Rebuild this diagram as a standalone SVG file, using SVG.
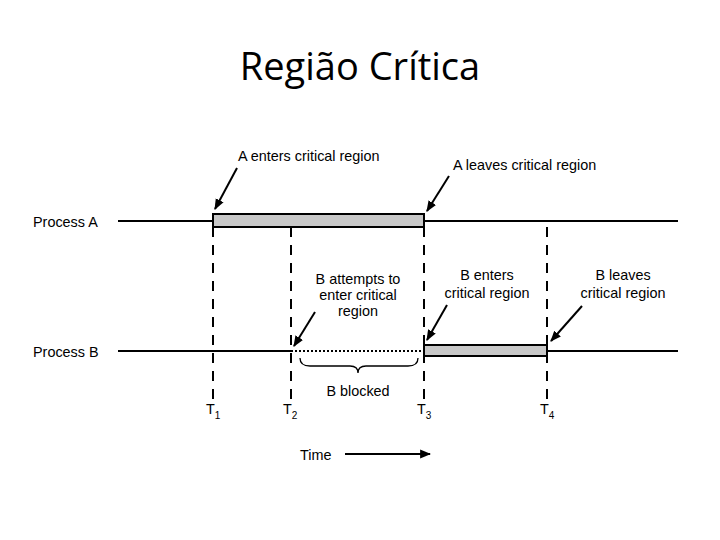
<svg xmlns="http://www.w3.org/2000/svg" width="720" height="540" viewBox="0 0 720 540">
<defs>
<style>
text{font-family:"Liberation Sans",Arial,sans-serif;font-size:14.4px;fill:#000}
.title{font-family:"Open Sans","Liberation Sans",sans-serif;font-size:38px;fill:#000}
.line{stroke:#000;stroke-width:2;fill:none}
.dash{stroke:#000;stroke-width:2;stroke-dasharray:10,8;fill:none}
.bar{fill:#c8c8c8;stroke:#000;stroke-width:2}
.arr{stroke:#000;stroke-width:2;fill:none;marker-end:url(#ah)}
.sub{font-size:10px}
</style>
<marker id="ah" viewBox="0 0 10 10" refX="9" refY="5" markerWidth="5.5" markerHeight="5.5" orient="auto" markerUnits="strokeWidth">
<path d="M0,1 L10,5 L0,9 z" fill="#000"/>
</marker>
</defs>
<rect width="720" height="540" fill="#fff"/>
<text class="title" x="360" y="80" text-anchor="middle">Região Crítica</text>

<g id="processA">
<text x="33" y="227">Process A</text>
<line class="line" x1="118" y1="221" x2="678" y2="221"/>
<rect class="bar" x="213" y="214" width="211" height="13"/>
</g>
<g id="processB">
<text x="33" y="357">Process B</text>
<line class="line" x1="118" y1="351" x2="291" y2="351"/>
<line x1="291" y1="351" x2="424" y2="351" stroke="#000" stroke-width="2" stroke-dasharray="2,2"/>
<line class="line" x1="547" y1="351" x2="678" y2="351"/>
<rect class="bar" x="424" y="345" width="123" height="11"/>
</g>
<g id="timelines">
<line class="dash" x1="213" y1="227" x2="213" y2="402"/>
<line class="dash" x1="291" y1="227" x2="291" y2="402"/>
<line class="dash" x1="424" y1="227" x2="424" y2="402"/>
<line class="dash" x1="547" y1="227" x2="547" y2="402"/>
<text x="206" y="414">T<tspan class="sub" dy="5">1</tspan></text>
<text x="283" y="414">T<tspan class="sub" dy="5">2</tspan></text>
<text x="417" y="414">T<tspan class="sub" dy="5">3</tspan></text>
<text x="540" y="414">T<tspan class="sub" dy="5">4</tspan></text>
</g>
<g id="labels">
<text x="238" y="161">A enters critical region</text>
<text x="453" y="170">A leaves critical region</text>
<text x="358" y="284" text-anchor="middle">B attempts to</text>
<text x="358" y="300" text-anchor="middle">enter critical</text>
<text x="358" y="316" text-anchor="middle">region</text>
<text x="487" y="280" text-anchor="middle">B enters</text>
<text x="487" y="298" text-anchor="middle">critical region</text>
<text x="623" y="280" text-anchor="middle">B leaves</text>
<text x="623" y="298" text-anchor="middle">critical region</text>
<text x="358" y="396" text-anchor="middle">B blocked</text>
<text x="300" y="460">Time</text>
</g>
<g id="connectors">
<line class="arr" x1="237" y1="168" x2="215" y2="209"/>
<line class="arr" x1="449" y1="176" x2="427" y2="211"/>
<line class="arr" x1="315" y1="312" x2="294" y2="346"/>
<line class="arr" x1="447" y1="305" x2="427" y2="340"/>
<line class="arr" x1="582" y1="306" x2="551" y2="341"/>
<line class="arr" x1="345" y1="454" x2="430" y2="454"/>
<path d="M300,358 Q300,366 310,366 L350,366 Q358,366 358,373 Q358,366 366,366 L408,366 Q418,366 418,358" stroke="#000" stroke-width="1.3" fill="none"/>
</g>
</svg>
